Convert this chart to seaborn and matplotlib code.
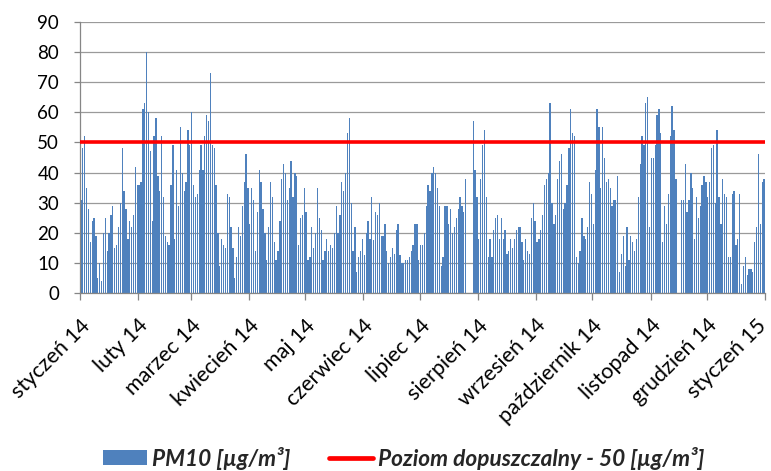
import numpy as np
import pandas as pd
import seaborn as sns
import matplotlib.pyplot as plt
from matplotlib.patches import Patch
from matplotlib.lines import Line2D
from matplotlib.transforms import ScaledTranslation

sns.set_theme(style="white")
plt.rcParams["font.family"] = ["Lato", "DejaVu Sans"]

nan = np.nan
jan = [31, 48, 52, 35, 28, 17, 24, 25, 19, 5, 10, 4, 20, 25, 14, 20, 26, 29, 15, 16,
       22, 30, 48, 34, 28, 18, 24, 22, 26, 42, 36]
feb = [36, 37, 61, 63, 80, 60, 47, 24, 52, 58, 39, 34, 52, 32, 19, 17, 16, 36, 49, 18,
       41, 29, 55, 40, 34, 37, 54, 49]
mar = [60, 36, 32, 33, 41, 49, 41, 52, 59, 57, 73, 49, 48, 36, 20, 9, 18, 16, 15, 33,
       32, 22, 15, 5, 12, 22, 19, 29, 37, 46, 35]
apr = [23, 35, 31, 14, 27, 41, 37, 28, 20, 11, 22, 37, 32, 17, 11, 14, 24, 38, 43, 40,
       31, 35, 44, 32, 40, 39, 16, 25, 26, 35]
may = [27, 11, 12, 22, 15, 20, 35, 25, 21, 11, 14, 18, 14, 16, 15, 20, 29, 20, 26, 37,
       34, 40, 53, 58, 30, 14, 22, 7, 12, 14, 18]
jun = [12.5, 20, 24, 18, 32, 17.5, 27, 26, 30, 19, 19, 23, 14, 10, 12, 15, 13, 21, 23, 12.5,
       10, 10, 11, 11, 12, 14, 16, 23, 23, 11]
jul = [16, 16, 20, 29, 36, 34, 40, 42, 40, 35, 29, 9, 12, 29, 29, 23, 28, 20, 22, 25,
       28, 32, 29, 27, 38, nan, nan, nan, 57, 41, 32]
aug = [18, 38, 49, 54, 32, 12, 18, 12, 21, 25, 26, 18, 25, 18, 21, 13, 14, 18, 15, 18,
       21, 22, 22, 17, 11, 18, 14, 13, 25, 30, 24]
sep = [17, 18, 21, 26, 36, 38, 40, 63, 30, 23, 26, 38, 44, 46, 28, 30, 36, 48, 61, 53,
       52, 12, 10, 14, 25, 19, 18, 22, 37, 33]
oct_ = [23, 41, 61, 55, 35, 55, 45, 37, 38, 35, 29, 31, 31, 39, 7, 13, 19, 9, 22, 11,
        19, 17, 14, 18, 32, 43, 52, 49, 63, 65, 22]
nov = [45, 45, 49, 59, 61, 53, 17, 29, 23, 33, 52, 62, 54, 38, nan, nan, 31, 31, 43, 27,
       31, 40, 35, 18, 32, 25, 29, 36, 39, 37]
dec = [32, 37, 48, 49, 30, 54, 32, 23, 38, 33, 32, 12, 12, 33, 34, 16, 18, 33, 3, 9,
       12, 6, 8, 8, 7, 17, 22, 46, 23, 37, 38]

month_labels = ["styczeń 14", "luty 14", "marzec 14", "kwiecień 14", "maj 14",
                "czerwiec 14", "lipiec 14", "sierpień 14", "wrzesień 14",
                "październik 14", "listopad 14", "grudzień 14", "styczeń 15"]
limit = 50

pm10 = np.array(jan + feb + mar + apr + may + jun + jul + aug + sep + oct_ + nov + dec,
                dtype=float)
days = pd.date_range("2014-01-01", periods=len(pm10), freq="D")
start = days[0]
df = pd.DataFrame({"day": (days - start).days + 0.5, "pm10": pm10}).dropna()

month_starts = pd.date_range("2014-01-01", "2015-01-01", freq="MS")
tick_pos = (month_starts - start).days

W, H = 771, 471
fig = plt.figure(figsize=(W / 100, H / 100), dpi=100)
ax = fig.add_axes([80 / W, 1 - 293 / H, (765 - 80) / W, (293 - 22) / H])

sns.barplot(data=df, x="day", y="pm10", native_scale=True, color="#4F81BD",
            saturation=1, width=0.7, errorbar=None, linewidth=0, ax=ax)
ax.axhline(limit, color="#FF0000", lw=2.6, zorder=4)

ax.set_xlim(0, tick_pos[-1])
ax.set_ylim(0, 90)
ax.set_yticks(range(0, 91, 10))
ax.set_xticks(tick_pos)
ax.set_xticklabels(month_labels, rotation=45, ha="right", rotation_mode="anchor")
ax.set_xlabel("")
ax.set_ylabel("")
ax.set_axisbelow(True)
ax.yaxis.grid(True, color="#9a9a9a", lw=0.9)
ax.xaxis.grid(False)

for side in ["top", "right"]:
    ax.spines[side].set_visible(False)
for side in ["left", "bottom"]:
    ax.spines[side].set_color("#868686")
    ax.spines[side].set_linewidth(0.9)

ax.tick_params(axis="x", bottom=True, length=5, width=0.9, color="#868686",
               labelsize=15.5, pad=11, labelcolor="black")
ax.tick_params(axis="y", left=True, length=4, width=0.9, color="#868686",
               labelsize=13.5, pad=11, labelcolor="black")

# keep the last month label inside the canvas
last = ax.get_xticklabels()[-1]
last.set_transform(last.get_transform() + ScaledTranslation(-9 / 100, 0, fig.dpi_scale_trans))

handles = [Patch(facecolor="#4F81BD", edgecolor="none"),
           Line2D([0], [0], color="#FF0000", lw=3.4)]
fig.legend(handles, ["PM10 [µg/m³]", "Poziom dopuszczalny - 50 [µg/m³]"],
           loc="center", bbox_to_anchor=(404 / W, 1 - 458 / H), ncol=2, frameon=False,
           prop={"weight": "bold", "style": "italic", "size": 16.3},
           handlelength=1.95, handleheight=0.62, handletextpad=0.22, columnspacing=1.7)

fig.savefig("out.png", dpi=100)
